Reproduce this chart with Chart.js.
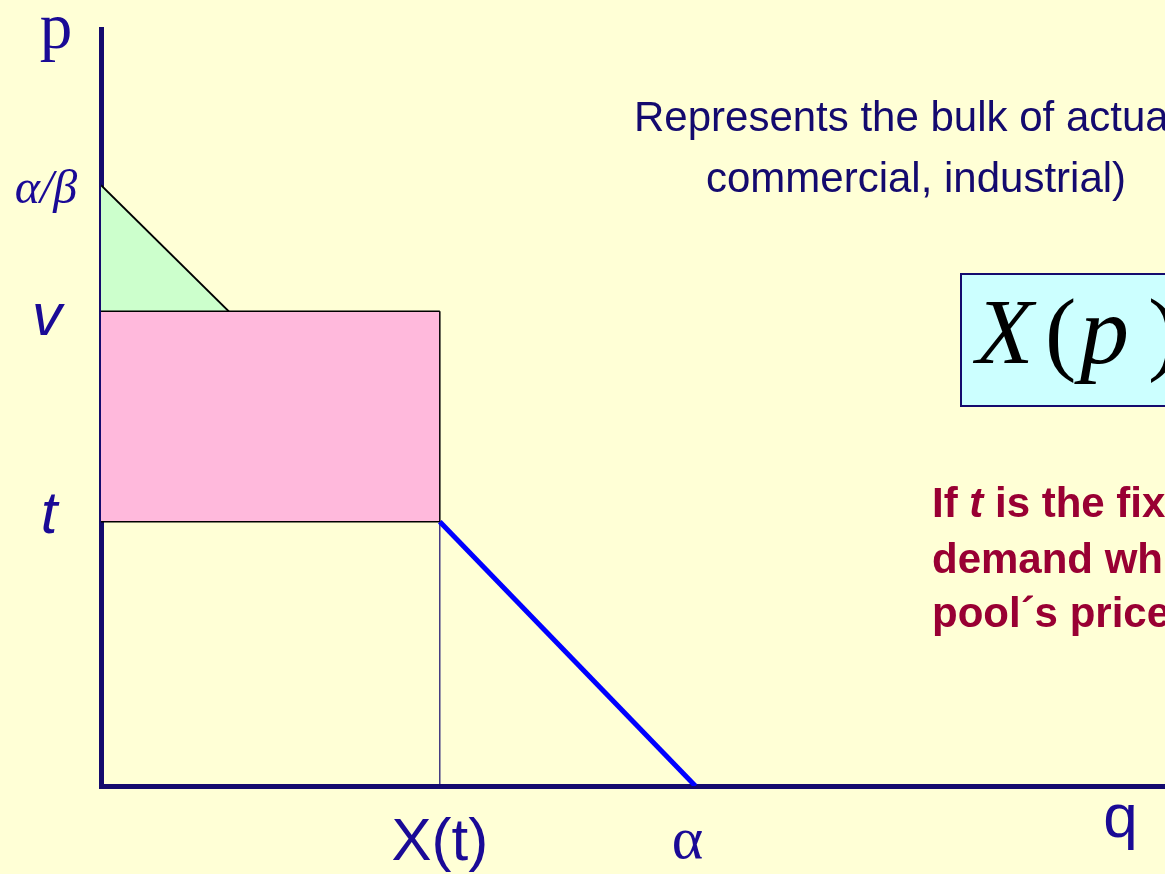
<!DOCTYPE html>
<html lang="en">
  <head>
    <meta charset="utf-8">
    <style>
      html, body { margin: 0; padding: 0; background: #ffffd6; }
      #wrap { width: 1165px; height: 874px; position: relative; }
    </style>
  </head>
  <body>
    <div id="wrap">
      <canvas id="myChart"></canvas>
    </div>
    <script src="https://cdn.jsdelivr.net/npm/chart.js"></script>
    <script>
      // price levels on the p axis
      const pLevels = [10, 7.9, 4.4];            // alpha/beta, v, t
      // quantities on the q axis
      const qLevels = [2.15, 5.7, 10];           // q at v, X(t), alpha
      const yTickValues = [12.6, 10, 7.9, 4.4];
      const yTickLabels = ['p', 'α/β', 'v', 't'];
      const xTickValues = [5.7, 10, 17.15];
      const xTickLabels = ['X(t)', 'α', 'q'];

      const aOverB = pLevels[0], v = pLevels[1], t = pLevels[2];
      const qV = qLevels[0], xT = qLevels[1], alpha = qLevels[2];

      const navy = '#140a6e';
      const labelColor = '#1a0a96';

      const labelPlugin = {
        id: 'labels',
        afterDraw(chart) {
          const ctx = chart.ctx;
          const xs = chart.scales.x, ys = chart.scales.y;
          ctx.save();
          ctx.fillStyle = labelColor;
          ctx.textBaseline = 'alphabetic';
          ctx.textAlign = 'center';
          // y axis labels
          const yFonts = ['65px "Liberation Serif"', 'italic 48px "Liberation Serif"',
                          'italic 60px "Liberation Sans"', 'italic 60px "Liberation Sans"'];
          const yXs = [56, 46, 47, 49];
          const yOff = [19, 18, 24, 11];
          yTickValues.forEach((val, i) => {
            ctx.font = yFonts[i];
            ctx.fillText(yTickLabels[i], yXs[i], ys.getPixelForValue(val) + yOff[i]);
          });
          // x axis labels
          const xFonts = ['60px "Liberation Sans"', '60px "Liberation Serif"', '62px "Liberation Sans"'];
          const xBase = [860, 858, 837];
          const xOff = [0, -8, 0];
          xTickValues.forEach((val, i) => {
            ctx.font = xFonts[i];
            ctx.fillText(xTickLabels[i], xs.getPixelForValue(val) + xOff[i], xBase[i]);
          });

          // annotation text
          ctx.textAlign = 'left';
          ctx.fillStyle = navy;
          ctx.font = '42px "Liberation Sans"';
          ctx.fillText('Represents the bulk of actua', 634, 131);
          ctx.fillText('commercial, industrial)', 706, 192);

          // X(p) box
          ctx.fillStyle = '#ccffff';
          ctx.fillRect(961, 274, 260, 132);
          ctx.strokeStyle = navy;
          ctx.lineWidth = 2;
          ctx.strokeRect(961, 274, 260, 132);
          ctx.fillStyle = '#000000';
          ctx.font = 'italic 94px "Liberation Serif"';
          ctx.fillText('X', 976, 363);
          ctx.font = '94px "Liberation Serif"';
          ctx.fillText('(', 1045, 363);
          ctx.font = 'italic 98px "Liberation Serif"';
          ctx.fillText('p', 1080, 363);
          ctx.font = '94px "Liberation Serif"';
          ctx.fillText(')', 1148, 363);

          // red text
          ctx.fillStyle = '#990033';
          ctx.font = 'bold 42px "Liberation Sans"';
          let x = 932;
          ctx.fillText('If ', x, 517);
          x += ctx.measureText('If ').width;
          ctx.font = 'bold italic 42px "Liberation Sans"';
          ctx.fillText('t', x, 517);
          x += ctx.measureText('t').width;
          ctx.font = 'bold 42px "Liberation Sans"';
          ctx.fillText(' is the fix', x, 517);
          ctx.fillText('demand wh', 932, 573);
          ctx.fillText('pool´s price', 932, 627);
          ctx.restore();
        }
      };

      const data = {
        datasets: [
          {
            // demand line below t
            data: [{x: xT, y: t}, {x: alpha, y: 0}],
            borderColor: '#0000ff', borderWidth: 5, order: 1
          },
          {
            // vertical drop at X(t)
            data: [{x: xT, y: t}, {x: xT, y: 0}],
            borderColor: navy, borderWidth: 1.2, order: 2
          },
          {
            // outline of revenue rectangle
            data: [{x: 0, y: t}, {x: xT, y: t}, {x: xT, y: v}],
            borderColor: '#000000', borderWidth: 1.5, order: 2
          },
          {
            // pink rectangle
            data: [{x: 0, y: v}, {x: xT, y: v}],
            borderColor: '#000000', borderWidth: 1.5,
            backgroundColor: '#ffb9dc', fill: {value: t}, order: 5
          },
          {
            // green triangle
            data: [{x: 0, y: aOverB}, {x: qV, y: v}],
            borderColor: '#000000', borderWidth: 2,
            backgroundColor: '#ccffcc', fill: {value: v}, order: 5
          }
        ]
      };

      const config = {
        type: 'scatter',
        data: data,
        options: {
          responsive: true,
          maintainAspectRatio: false,
          animation: false,
          showLine: true,
          elements: { point: { radius: 0, hoverRadius: 0 }, line: { tension: 0 } },
          layout: { padding: { left: 101, top: 29, right: 0, bottom: 88 } },
          plugins: { legend: { display: false }, tooltip: { enabled: false } },
          scales: {
            x: {
              type: 'linear', min: 0, max: 17.9,
              grid: { display: false, drawTicks: false },
              ticks: { display: false },
              border: { display: true, color: navy, width: 5 }
            },
            y: {
              type: 'linear', min: 0, max: 12.6,
              grid: { display: false, drawTicks: false },
              ticks: { display: false },
              border: { display: true, color: navy, width: 5 }
            }
          }
        },
        plugins: [labelPlugin]
      };

      const myChart = new Chart(document.getElementById('myChart'), config);
    </script>
  </body>
</html>
